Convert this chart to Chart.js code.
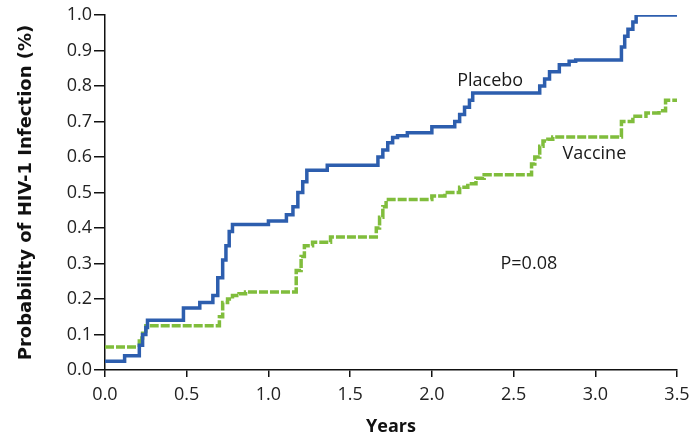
<!DOCTYPE html>
<html>
<head>
<meta charset="utf-8">
<script src="https://cdn.jsdelivr.net/npm/chart.js@4/dist/chart.umd.min.js"></script>
<style>
html,body{margin:0;padding:0;background:#fff;}
#wrap{width:693px;height:438px;position:relative;}
</style>
</head>
<body>
<div id="wrap"><canvas id="c" width="693" height="438"></canvas></div>
<script>
// Kaplan-Meier step data (time in years, cumulative probability)
const placeboX = [0, 0.12, 0.21, 0.23, 0.25, 0.26, 0.48, 0.58, 0.66, 0.69, 0.72, 0.74, 0.76, 0.78, 1.00, 1.11, 1.15, 1.18, 1.21, 1.235, 1.36, 1.67, 1.70, 1.73, 1.76, 1.79, 1.85, 2.00, 2.14, 2.17, 2.20, 2.23, 2.25, 2.66, 2.69, 2.72, 2.78, 2.84, 2.88, 3.16, 3.18, 3.20, 3.23, 3.25, 3.5];
const placeboY = [0.025, 0.04, 0.07, 0.10, 0.12, 0.14, 0.175, 0.19, 0.21, 0.26, 0.31, 0.35, 0.39, 0.41, 0.42, 0.437, 0.46, 0.50, 0.53, 0.563, 0.577, 0.60, 0.62, 0.64, 0.655, 0.66, 0.668, 0.685, 0.70, 0.72, 0.74, 0.76, 0.78, 0.80, 0.82, 0.84, 0.86, 0.87, 0.873, 0.91, 0.94, 0.96, 0.98, 1.0, 1.0];
const vaccineX = [0, 0.21, 0.23, 0.25, 0.70, 0.72, 0.75, 0.78, 0.82, 0.86, 1.17, 1.20, 1.22, 1.27, 1.38, 1.66, 1.68, 1.70, 1.72, 2.00, 2.08, 2.17, 2.22, 2.27, 2.32, 2.61, 2.63, 2.66, 2.68, 2.71, 2.74, 3.16, 3.18, 3.23, 3.31, 3.39, 3.43, 3.5];
const vaccineY = [0.065, 0.09, 0.11, 0.125, 0.15, 0.19, 0.20, 0.21, 0.215, 0.22, 0.28, 0.32, 0.35, 0.36, 0.375, 0.40, 0.43, 0.46, 0.48, 0.49, 0.50, 0.515, 0.525, 0.54, 0.55, 0.58, 0.60, 0.63, 0.645, 0.65, 0.656, 0.70, 0.70, 0.715, 0.724, 0.73, 0.76, 0.76];
const xTicks = [0, 0.5, 1.0, 1.5, 2.0, 2.5, 3.0, 3.5];
const yTicks = [0, 0.1, 0.2, 0.3, 0.4, 0.5, 0.6, 0.7, 0.8, 0.9, 1.0];
const labels = [
  {text: 'Placebo', x: 2.155, y: 0.814},
  {text: 'Vaccine', x: 2.80, y: 0.61},
  {text: 'P=0.08', x: 2.42, y: 0.30}
];

const FONT = "'Open Sans', 'DejaVu Sans', sans-serif";
function pts(xs, ys){ return xs.map((x,i)=>({x:x, y:ys[i]})); }

const textPlugin = {
  id: 'textLabels',
  afterDatasetsDraw(chart){
    const ctx = chart.ctx, xs = chart.scales.x, ys = chart.scales.y;
    ctx.save();
    ctx.fillStyle = '#1a1a1a';
    ctx.font = "18px " + FONT;
    ctx.textBaseline = 'middle';
    ctx.textAlign = 'left';
    labels.forEach(l => ctx.fillText(l.text, xs.getPixelForValue(l.x), ys.getPixelForValue(l.y)));
    ctx.restore();
  }
};

new Chart(document.getElementById('c'), {
  type: 'line',
  data: {
    datasets: [
      {label:'Placebo', data: pts(placeboX, placeboY), stepped: true, borderColor:'#2d5eae', borderWidth:3.5, pointRadius:0, fill:false},
      {label:'Vaccine', data: pts(vaccineX, vaccineY), stepped: true, borderColor:'#80bd3c', borderWidth:3.5, borderDash:[9,2], pointRadius:0, fill:false}
    ]
  },
  options: {
    responsive: false,
    animation: false,
    layout: {padding: {left: 0, right: 16, top: 15, bottom: 0}},
    plugins: {legend:{display:false}, tooltip:{enabled:false}},
    scales: {
      x: {
        type: 'linear', min: 0, max: 3.5,
        afterBuildTicks(s){ s.ticks = xTicks.map(v=>({value:v})); },
        afterFit(s){ s.height = 68; },
        grid: {drawOnChartArea:false, color:'#111', tickLength:7, lineWidth:1.5},
        border: {color:'#111', width:1.5},
        ticks: {color:'#222', font:{size:18, family:FONT, lineHeight:1.8}, padding:2, maxRotation:0, callback:v=>v.toFixed(1)},
        title: {display:true, text:'Years', color:'#111', font:{size:18, weight:'bold', family:FONT, lineHeight:1.0}, padding:{top:4, bottom:2}}
      },
      y: {
        min: 0, max: 1,
        afterBuildTicks(s){ s.ticks = yTicks.map(v=>({value:v})); },
        afterFit(s){ s.width = 105; },
        grid: {drawOnChartArea:false, color:'#111', tickLength:11, lineWidth:1.5},
        border: {color:'#111', width:1.5},
        ticks: {color:'#222', font:{size:18, family:FONT}, padding:2, callback:v=>v.toFixed(1)},
        title: {display:true, text:'Probability of HIV-1 Infection (%)', color:'#111', font:{size:18, weight:'bold', family:"'DejaVu Sans', sans-serif"}, padding:{top:16, bottom:4}}
      }
    }
  },
  plugins: [textPlugin]
});
</script>
</body>
</html>
